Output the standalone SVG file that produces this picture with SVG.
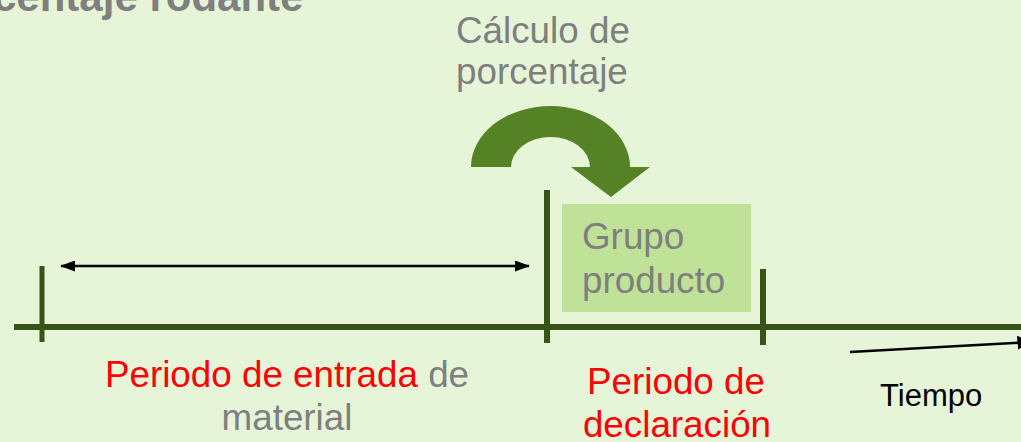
<svg xmlns="http://www.w3.org/2000/svg" width="1021" height="442" viewBox="0 0 1021 442">
<style>
text{font-family:"Liberation Sans",Arial,sans-serif}
.g{fill:#7F7F7F;font-size:36.8px}
.r{fill:#FF0000;font-size:36.8px}
.tl{stroke:#375317;fill:none}
.blk{stroke:#000;fill:none}
</style>
<defs>
<marker id="ah" viewBox="0 0 15 11" refX="14" refY="5.5" markerWidth="15" markerHeight="11" orient="auto-start-reverse" markerUnits="userSpaceOnUse">
<path d="M0,0 L15,5.5 L0,11 Z" fill="#000"/>
</marker>
<marker id="ah2" viewBox="0 0 10 10" refX="9" refY="5" markerWidth="14" markerHeight="14" orient="auto" markerUnits="userSpaceOnUse">
<path d="M0,0 L10,5 L0,10 Z" fill="#000"/>
</marker>
</defs>
<rect width="1021" height="442" fill="#E6F4D8"/>
<g id="title">
<text x="-7" y="11" style="font-size:42px;font-weight:bold;fill:#7F7F7F">centaje rodante</text>
</g>
<g id="timeline">
<line class="tl" x1="14" y1="327" x2="1021" y2="327" stroke-width="6"/>
<line class="tl" x1="42" y1="266" x2="42" y2="342" stroke-width="5"/>
<line class="tl" x1="547" y1="190" x2="547" y2="343" stroke-width="6"/>
<line class="tl" x1="763" y1="269" x2="763" y2="345" stroke-width="6"/>
</g>
<g id="calc-label">
<text class="g" x="456" y="43">Cálculo de</text>
<text class="g" x="456" y="84">porcentaje</text>
</g>
<g id="group-box">
<rect x="562" y="204" width="189" height="108" fill="#BFE298"/>
<text class="g" x="582" y="249">Grupo</text>
<text class="g" x="582" y="293">producto</text>
</g>
<g id="entry-label">
<text x="287" y="387" text-anchor="middle" style="font-size:36.8px"><tspan fill="#FF0000">Periodo de entrada</tspan><tspan fill="#7F7F7F"> de</tspan></text>
<text class="g" x="287" y="430" text-anchor="middle">material</text>
</g>
<g id="decl-label">
<text class="r" x="676" y="394" text-anchor="middle">Periodo de</text>
<text class="r" x="677" y="437" text-anchor="middle">declaración</text>
</g>
<g id="time-label">
<text x="880" y="406" style="font-size:31px;fill:#000">Tiempo</text>
</g>
<g id="connectors">
<path id="calc-arrow" d="M471,167 A79.5,61 0 0 1 630,167 L650,167 L611,197 L571,167 L590,167 A39.5,30 0 0 0 511,167 Z" fill="#558224"/>
<line class="blk" x1="61" y1="266" x2="529" y2="266" marker-start="url(#ah)" marker-end="url(#ah)" style="stroke-width:2.5"/>
<line class="blk" x1="850" y1="352" x2="1030" y2="342" marker-end="url(#ah2)" style="stroke-width:2.5"/>
</g>
</svg>
